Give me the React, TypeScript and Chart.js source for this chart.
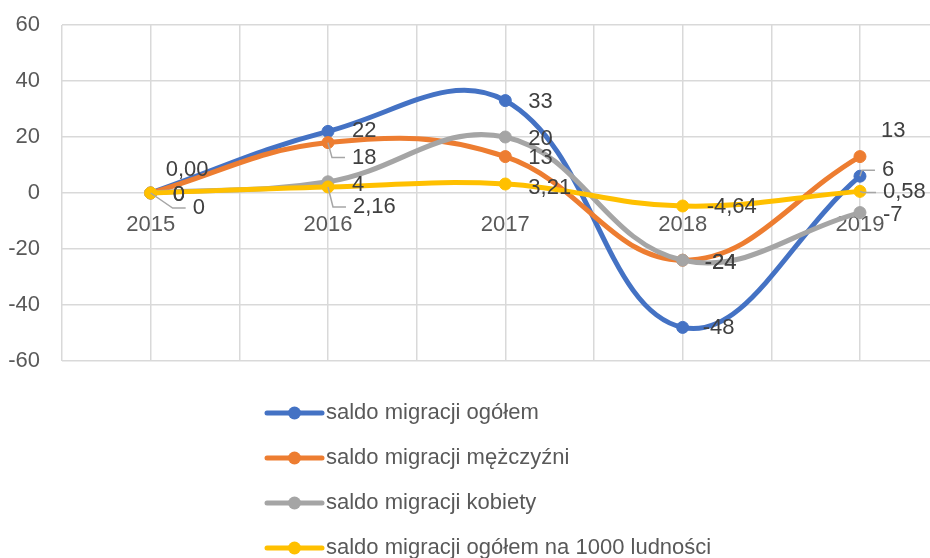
import React, { useEffect, useRef } from 'react';
import { Chart, registerables } from 'chart.js';

Chart.register(...registerables);

// ---- data ----
const categories = ['2015', '2016', '2017', '2018', '2019'];
const seriesNames = [
  'saldo migracji ogółem',
  'saldo migracji mężczyźni',
  'saldo migracji kobiety',
  'saldo migracji ogółem na 1000 ludności',
];
const ogolem = [0, 22, 33, -48, 6];
const mezczyzni = [0, 18, 13, -24, 13];
const kobiety = [0, 4, 20, -24, -7];
const na1000 = [0.0, 2.16, 3.21, -4.64, 0.58];
const yMin = -60;
const yMax = 60;
const yStep = 20;

const seriesValues = [ogolem, mezczyzni, kobiety, na1000];
const seriesDecimals = [0, 0, 0, 2];

// ---- styles ----
const colors = ['#4472C4', '#ED7D31', '#A5A5A5', '#FFC000'];
const FONT = '"Liberation Sans", Arial, sans-serif';
const FONT_SIZE = 22;

// label placement relative to point: [dx, dy, leaderLine]
const labelPlacement: number[][][] = [
  [[22, 2, 0], [24, 0, 0], [23, 1, 0], [20, 1, 0], [22, -6, 1]],
  [[22, 2, 0], [24, 15, 1], [23, 1, 0], [22, 3, 0], [21, -26, 0]],
  [[42, 15, 1], [24, 3, 0], [23, 2, 0], [22, 3, 0], [23, 2, 0]],
  [[15, -23, 0], [25, 20, 1], [23, 4, 0], [24, 1, 0], [23, 1, 1]],
];

function fmt(v: number, d: number) {
  return d > 0 ? v.toFixed(d).replace('.', ',') : String(v);
}

const dataLabelPlugin = {
  id: 'dataLabels',
  afterDatasetsDraw(chart: any) {
    const ctx = chart.ctx;
    ctx.save();
    ctx.font = `${FONT_SIZE}px ${FONT}`;
    ctx.textBaseline = 'middle';
    ctx.textAlign = 'left';
    seriesValues.forEach((vals, i) => {
      const meta = chart.getDatasetMeta(i);
      vals.forEach((v, j) => {
        const el = meta.data[j];
        if (!el) return;
        const [dx, dy, leader] = labelPlacement[i][j];
        const tx = el.x + dx;
        const ty = el.y + dy;
        if (leader) {
          ctx.strokeStyle = '#A6A6A6';
          ctx.lineWidth = 1.5;
          ctx.beginPath();
          ctx.moveTo(el.x, el.y);
          ctx.lineTo(tx - 20, ty);
          ctx.lineTo(tx - 7, ty);
          ctx.stroke();
        }
        ctx.fillStyle = '#404040';
        ctx.fillText(fmt(v, seriesDecimals[i]), tx, ty);
      });
    });
    ctx.restore();
  },
};

const legendPlugin = {
  id: 'verticalLegend',
  afterDraw(chart: any) {
    const ctx = chart.ctx;
    ctx.save();
    ctx.font = `${FONT_SIZE}px ${FONT}`;
    ctx.textBaseline = 'middle';
    ctx.textAlign = 'left';
    const x0 = 267;
    const x1 = 322;
    const y0 = 413;
    const step = 45;
    seriesNames.forEach((name, i) => {
      const y = y0 + i * step;
      ctx.strokeStyle = colors[i];
      ctx.lineWidth = 5;
      ctx.lineCap = 'round';
      ctx.beginPath();
      ctx.moveTo(x0, y);
      ctx.lineTo(x1, y);
      ctx.stroke();
      ctx.fillStyle = colors[i];
      ctx.beginPath();
      ctx.arc((x0 + x1) / 2, y, 6.5, 0, Math.PI * 2);
      ctx.fill();
      ctx.fillStyle = '#595959';
      ctx.fillText(name, x1 + 4, y);
    });
    ctx.restore();
  },
};

export default function App() {
  const ref = useRef<HTMLCanvasElement | null>(null);

  useEffect(() => {
    if (!ref.current) return;
    const chart = new Chart(ref.current, {
      type: 'line',
      data: {
        datasets: seriesValues.map((vals, i) => ({
          label: seriesNames[i],
          data: vals.map((v, j) => ({ x: j, y: v })),
          borderColor: colors[i],
          backgroundColor: colors[i],
          pointBackgroundColor: colors[i],
          pointBorderColor: colors[i],
          borderWidth: 5,
          pointRadius: 6,
          pointBorderWidth: 1,
          tension: 0.4,
          fill: false,
          borderCapStyle: 'round',
          borderJoinStyle: 'round',
          order: 3 - i,
        })),
      },
      options: {
        animation: false,
        responsive: false,
        devicePixelRatio: 1,
        layout: { autoPadding: false, padding: { top: 25, right: 0, bottom: 197, left: 0 } },
        plugins: {
          legend: { display: false },
          tooltip: { enabled: false },
        },
        scales: {
          x: {
            type: 'linear',
            position: { y: 0 },
            min: -0.5,
            max: 4 + 70 / 177.25,
            border: { display: false },
            grid: { color: '#D9D9D9', lineWidth: 1.5, drawTicks: false },
            ticks: {
              stepSize: 0.5,
              includeBounds: false,
              autoSkip: false,
              maxRotation: 0,
              minRotation: 0,
              padding: 19,
              color: '#595959',
              font: { family: FONT, size: FONT_SIZE },
              callback: (value: any) => {
                const v = Number(value);
                const r = Math.round(v);
                if (Math.abs(v - r) < 1e-6 && r >= 0 && r < categories.length) return categories[r];
                return '';
              },
            },
            afterFit: (scale: any) => {
              scale.paddingLeft = 0;
              scale.paddingRight = 0;
              scale.paddingTop = 0;
              scale.paddingBottom = 0;
            },
          },
          y: {
            min: yMin,
            max: yMax,
            border: { display: false },
            grid: { color: '#D9D9D9', lineWidth: 1.5, drawTicks: false },
            ticks: {
              stepSize: yStep,
              padding: 22,
              color: '#595959',
              font: { family: FONT, size: FONT_SIZE },
            },
            afterFit: (scale: any) => {
              scale.width = 62;
              scale.paddingTop = 0;
              scale.paddingBottom = 0;
              scale.paddingLeft = 0;
              scale.paddingRight = 0;
            },
          },
        },
      } as any,
      plugins: [dataLabelPlugin, legendPlugin],
    });
    return () => chart.destroy();
  }, []);

  return (
    <div style={{ position: 'absolute', left: 0, top: 0, width: 930, height: 558, background: '#fff' }}>
      <canvas ref={ref} width={930} height={558} style={{ width: 930, height: 558, display: 'block' }} />
    </div>
  );
}
